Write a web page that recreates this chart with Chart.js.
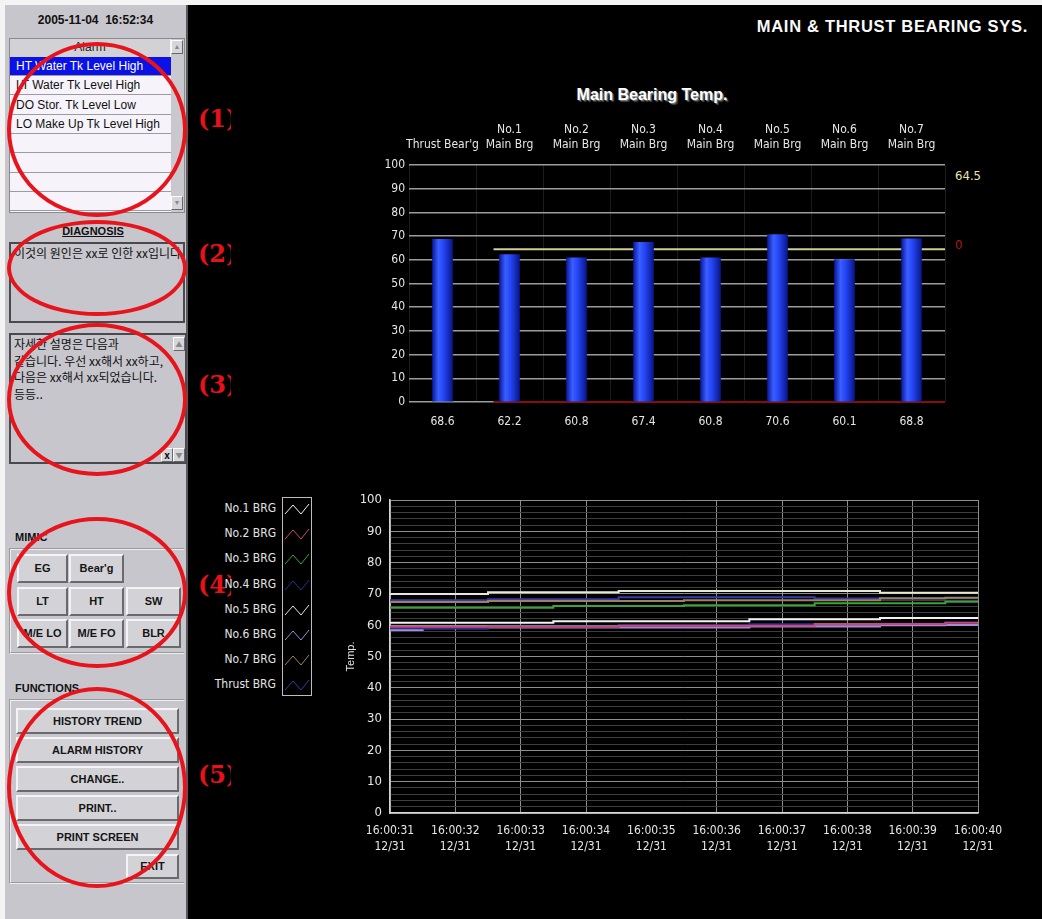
<!DOCTYPE html>
<html>
<head>
<meta charset="utf-8">
<title>Main & Thrust Bearing Sys.</title>
<script src="https://cdn.jsdelivr.net/npm/chart.js@4.4.1/dist/chart.umd.min.js"></script>
<style>
  html, body { margin: 0; padding: 0; }
  body { width: 1042px; height: 919px; position: relative; overflow: hidden; background: #f4f4f4;
         font-family: "Liberation Sans", Arial, sans-serif; }
  .abs { position: absolute; }
  #panel { left: 5px; top: 5px; width: 181px; height: 914px; background: #c7c6cc; }
  #panelEdge { left: 186px; top: 5px; width: 2px; height: 914px; background: #5a5a5e; }
  #screen { left: 188px; top: 5px; width: 854px; height: 914px; background: #000; }
  #clock { left: 5px; top: 13px; width: 181px; text-align: center; font-weight: bold; font-size: 12px; color: #111; }

  #alarmList { left: 9px; top: 38px; width: 176px; height: 175px; background: #f6f4fa; border: 1px solid #8a8a8e; box-sizing: border-box; }
  #alarmHead { left: 0; top: 0; width: 160px; height: 18px; background: #d2d2d6; border-bottom: 1px solid #9a9a9e;
               font-size: 12px; text-align: center; line-height: 17px; color: #222; }
  .alarmRow { position: absolute; left: 0; width: 161px; height: 19px; border-bottom: 1px solid #9c9ca0; box-sizing: border-box;
              font-size: 12px; line-height: 18px; padding-left: 6px; color: #111; white-space: nowrap; overflow: hidden; }
  .alarmRow.sel { background: #0a12e8; color: #fff; }
  #alarmScroll { left: 161px; top: 0; width: 13px; height: 173px; background: #c9c8cd; }
  .sbtn { position: absolute; width: 12px; height: 14px; background: #d6d6da; border-top: 1px solid #fff; border-left: 1px solid #fff;
          border-right: 1px solid #666; border-bottom: 1px solid #666; box-sizing: border-box; font-size: 7px; color: #888;
          text-align: center; line-height: 12px; }

  #diagLabel { left: 5px; top: 225px; width: 176px; text-align: center; font-weight: bold; font-size: 11px; text-decoration: underline; color: #111; }
  #diagBox { left: 9px; top: 242px; width: 176px; height: 81px; border: 2px solid #4a4a4e; box-sizing: border-box; background: #c7c6cc;
             font-family: "Noto Sans CJK KR", sans-serif; font-size: 12px; line-height: 16px; padding: 1px 3px; white-space: nowrap; overflow: hidden; color: #111; }
  #detailBox { left: 9px; top: 333px; width: 178px; height: 131px; border: 2px solid #4a4a4e; box-sizing: border-box; background: #c7c6cc;
               font-family: "Noto Sans CJK KR", sans-serif; font-size: 12px; line-height: 16.5px; padding: 1px 3px; color: #111; }

  .grpLabel { font-weight: bold; font-size: 11px; color: #111; }
  .grp { border-top: 2px groove #eee; border-left: 2px groove #eee; border-bottom: 2px groove #eee; box-sizing: border-box; }
  .btn { position: absolute; background: #d3d3d7; border-top: 2px solid #f4f4f6; border-left: 2px solid #f4f4f6;
         border-right: 2px solid #6a6a6e; border-bottom: 2px solid #6a6a6e; box-sizing: border-box; font-weight: bold;
         font-size: 11px; color: #151515; text-align: center; }

  .ring { position: absolute; border: 4px solid #e8141c; border-radius: 50%; box-sizing: border-box; }
  .tag { position: absolute; left: 198px; width: 33px; overflow: hidden; font-family: "DejaVu Serif", "Liberation Serif", serif;
         font-weight: bold; font-size: 24px; color: #e8101a; white-space: nowrap; }

  #sysTitle { right: 14px; top: 17px; font-weight: bold; font-size: 16.5px; color: #fafafa; letter-spacing: 0.7px; }
  #barTitle { left: 552px; top: 86px; width: 200px; text-align: center; font-weight: bold; font-size: 16px; color: #fff;
              text-shadow: 1px 1px 0 #777, 2px 2px 1px #444; }
  .readout { position: absolute; font-family: "Liberation Sans Narrow", "DejaVu Sans Condensed", "Liberation Sans", sans-serif; font-size: 13px; }
  #barWrap { left: 360px; top: 110px; width: 610px; height: 330px; }
  #trendWrap { left: 330px; top: 480px; width: 700px; height: 390px; }
  #legendBox { left: 282px; top: 497px; width: 30px; height: 199px; border: 1px solid #bdbdbd; box-sizing: border-box; }
  .legRow { position: absolute; left: 200px; width: 76px; text-align: right; color: #e4e4e4; font-size: 12px;
            font-family: "Liberation Sans Narrow", "DejaVu Sans Condensed", "Liberation Sans", sans-serif; }
  .legIcon { position: absolute; left: 284px; }
</style>
</head>
<body>
<div id="panel" class="abs"></div>
<div id="panelEdge" class="abs"></div>
<div id="screen" class="abs"></div>

<div id="clock" class="abs">2005-11-04&nbsp; 16:52:34</div>

<div id="alarmList" class="abs">
  <div id="alarmHead" class="abs">Alarm</div>
  <div id="alarmRows"></div>
  <div id="alarmScroll" class="abs">
    <div class="sbtn" style="left:0;top:1px;">&#9650;</div>
    <div class="sbtn" style="left:0;top:157px;">&#9660;</div>
  </div>
</div>

<div id="diagLabel" class="abs">DIAGNOSIS</div>
<div id="diagBox" class="abs">이것의 원인은 xx로 인한 xx입니다</div>
<div id="detailBox" class="abs">자세한 설명은 다음과<br>같습니다. 우선 xx해서 xx하고,<br>다음은 xx해서 xx되었습니다.<br>등등..
  <div class="sbtn" style="left:162px;top:2px;">&#9650;</div>
  <div class="sbtn" style="left:162px;top:113px;">&#9660;</div>
  <div class="sbtn" style="left:150px;top:113px;color:#111;font-size:10px;font-weight:bold;">x</div>
</div>

<div class="grpLabel abs" style="left:15px;top:531px;">MIMIC</div>
<div class="grp abs" style="left:9px;top:548px;width:175px;height:106px;"></div>
<div id="mimicBtns"></div>

<div class="grpLabel abs" style="left:15px;top:682px;">FUNCTIONS</div>
<div class="grp abs" style="left:9px;top:699px;width:175px;height:185px;"></div>
<div id="funcBtns"></div>

<div class="ring" style="left:7px;top:42px;width:180px;height:175px;"></div>
<div class="ring" style="left:7px;top:220px;width:180px;height:96px;"></div>
<div class="ring" style="left:7px;top:323px;width:180px;height:153px;"></div>
<div class="ring" style="left:7px;top:517px;width:180px;height:151px;"></div>
<div class="ring" style="left:7px;top:687px;width:180px;height:201px;"></div>
<div class="tag" style="top:104px;">(1)</div>
<div class="tag" style="top:239px;">(2)</div>
<div class="tag" style="top:370px;">(3)</div>
<div class="tag" style="top:570px;">(4)</div>
<div class="tag" style="top:760px;">(5)</div>

<div id="sysTitle" class="abs">MAIN &amp; THRUST BEARING SYS.</div>
<div id="barTitle" class="abs">Main Bearing Temp.</div>
<div id="readHigh" class="readout" style="left:955px;top:168px;color:#e4e4b0;"></div>
<div id="readLow" class="readout" style="left:955px;top:237px;color:#b01818;"></div>

<div id="barWrap" class="abs"><canvas id="barChart" width="610" height="330"></canvas></div>
<div id="legendBox" class="abs"></div>
<div id="legend"></div>
<div id="trendWrap" class="abs"><canvas id="trendChart" width="700" height="390"></canvas></div>

<script>
// Alarm list + buttons (panel text)
const alarms = ['HT Water Tk Level High', 'LT Water Tk Level High', 'DO Stor. Tk Level Low', 'LO Make Up Tk Level High', '', '', '', ''];
const mimicButtons = [['EG', 'Bear\'g'], ['LT', 'HT', 'SW'], ['M/E LO', 'M/E FO', 'BLR']];
const functionButtons = ['HISTORY TREND', 'ALARM HISTORY', 'CHANGE..', 'PRINT..', 'PRINT SCREEN'];

// Bar chart data
const bearingLabels = [['', 'Thrust Bear\'g'], ['No.1', 'Main Brg'], ['No.2', 'Main Brg'], ['No.3', 'Main Brg'],
                       ['No.4', 'Main Brg'], ['No.5', 'Main Brg'], ['No.6', 'Main Brg'], ['No.7', 'Main Brg']];
const bearingTemps = [68.6, 62.2, 60.8, 67.4, 60.8, 70.6, 60.1, 68.8];
const alarmHigh = 64.5;
const alarmLow = 0;

// Trend chart data (one reading per second)
const trendTimes = ['16:00:31', '16:00:32', '16:00:33', '16:00:34', '16:00:35', '16:00:36', '16:00:37', '16:00:38', '16:00:39', '16:00:40'];
const trendDate = '12/31';
const seriesNames = ['No.1 BRG', 'No.2 BRG', 'No.3 BRG', 'No.4 BRG', 'No.5 BRG', 'No.6 BRG', 'No.7 BRG', 'Thrust BRG'];
const seriesColors = ['#f2f2f2', '#c8487a', '#3aa33a', '#2a2f9a', '#e8e8d4', '#a888d8', '#9a8260', '#3a3aa8'];
const no1Brg = [60.8, 60.8, 60.8, 61.3, 61.3, 61.3, 61.9, 61.9, 62.3, 62.3];
const no2Brg = [59.5, 59.5, 59.5, 59.5, 59.8, 59.8, 59.8, 60.4, 60.4, 60.8];
const no3Brg = [65.6, 65.6, 65.6, 66.1, 66.1, 66.4, 66.4, 67.0, 67.0, 67.5];
const no4Brg = [59.0, 59.0, 59.5, 59.5, 60.0, 60.0, 60.3, 60.3, 60.5, 60.8];
const no5Brg = [70.0, 70.0, 70.5, 70.5, 70.9, 70.9, 70.9, 70.9, 70.4, 70.4];
const no6Brg = [58.5, 59.0, 59.3, 59.3, 59.3, 59.3, 59.6, 59.6, 60.0, 60.1];
const no7Brg = [67.4, 67.4, 67.7, 67.7, 67.7, 68.0, 68.0, 68.0, 68.6, 68.8];
const thrustBrg = [68.0, 68.0, 68.3, 68.3, 68.9, 68.9, 68.9, 68.5, 68.5, 68.6];
const trendSeries = [no1Brg, no2Brg, no3Brg, no4Brg, no5Brg, no6Brg, no7Brg, thrustBrg];

const narrowFont = '"Liberation Sans Narrow", "DejaVu Sans Condensed", "Liberation Sans", sans-serif';

// --- panel ---
const rowsBox = document.getElementById('alarmRows');
alarms.forEach((text, i) => {
    const row = document.createElement('div');
    row.className = 'alarmRow' + (i === 0 ? ' sel' : '');
    row.style.top = (18 + i * 19.3) + 'px';
    row.textContent = text;
    rowsBox.appendChild(row);
});

const mimicBox = document.getElementById('mimicBtns');
const mimicCols = [17, 69, 126];
mimicButtons.forEach((row, r) => {
    row.forEach((label, c) => {
        const b = document.createElement('div');
        b.className = 'btn';
        b.style.left = mimicCols[c] + 'px';
        b.style.top = (554 + r * 32.5) + 'px';
        b.style.width = (c === 0 ? 51 : 55) + 'px';
        b.style.height = '29px';
        b.style.lineHeight = '25px';
        b.textContent = label;
        mimicBox.appendChild(b);
    });
});

const funcBox = document.getElementById('funcBtns');
functionButtons.forEach((label, i) => {
    const b = document.createElement('div');
    b.className = 'btn';
    b.style.left = '16px';
    b.style.top = (708 + i * 29) + 'px';
    b.style.width = '163px';
    b.style.height = '26px';
    b.style.lineHeight = '22px';
    b.textContent = label;
    funcBox.appendChild(b);
});
const exitBtn = document.createElement('div');
exitBtn.className = 'btn';
exitBtn.style.cssText = 'left:126px;top:854px;width:53px;height:25px;line-height:21px;';
exitBtn.textContent = 'EXIT';
funcBox.appendChild(exitBtn);

document.getElementById('readHigh').textContent = alarmHigh.toFixed(1);
document.getElementById('readLow').textContent = String(alarmLow);

// --- trend legend ---
const legendBox = document.getElementById('legend');
seriesNames.forEach((name, i) => {
    const y = 501 + i * 25.2;
    const lbl = document.createElement('div');
    lbl.className = 'legRow';
    lbl.style.top = y + 'px';
    lbl.textContent = name;
    legendBox.appendChild(lbl);
    const icon = document.createElementNS('http://www.w3.org/2000/svg', 'svg');
    icon.setAttribute('class', 'legIcon');
    icon.setAttribute('width', '26');
    icon.setAttribute('height', '14');
    icon.style.top = (y + 1) + 'px';
    icon.innerHTML = `<polyline points="1,12 9,3 17,12 25,2" fill="none" stroke="${seriesColors[i]}" stroke-width="1"/>`;
    legendBox.appendChild(icon);
});

Chart.defaults.color = '#e6e6e6';
Chart.defaults.font.family = narrowFont;
Chart.defaults.font.size = 12;
Chart.defaults.animation = false;

// --- bar chart ---
const thresholdLines = {
    id: 'thresholdLines',
    beforeDatasetsDraw(chart) {
        const { ctx, chartArea, scales } = chart;
        const start = scales.x.getPixelForValue(1) - 16;
        ctx.save();
        ctx.lineWidth = 2;
        ctx.strokeStyle = '#cfcf96';
        const yh = scales.y.getPixelForValue(alarmHigh);
        ctx.beginPath(); ctx.moveTo(start, yh); ctx.lineTo(chartArea.right, yh); ctx.stroke();
        ctx.strokeStyle = '#8a0c0c';
        const yl = scales.y.getPixelForValue(alarmLow);
        ctx.beginPath(); ctx.moveTo(start, yl); ctx.lineTo(chartArea.right, yl); ctx.stroke();
        ctx.restore();
    }
};

function barFill(c) {
    const xs = c.chart.scales.x;
    const cx = xs && c.dataIndex !== undefined ? xs.getPixelForValue(c.dataIndex) : NaN;
    if (!isFinite(cx)) return '#2446f6';
    const g = c.chart.ctx.createLinearGradient(cx - 10, 0, cx + 10, 0);
    g.addColorStop(0, '#0b1ba0');
    g.addColorStop(0.3, '#3a5eff');
    g.addColorStop(0.55, '#2446f6');
    g.addColorStop(1, '#0a168a');
    return g;
}

const barChart = new Chart(document.getElementById('barChart'), {
    type: 'bar',
    data: {
        labels: bearingLabels,
        datasets: [{
            data: bearingTemps,
            barThickness: 20,
            borderWidth: 0,
            backgroundColor: barFill
        }]
    },
    options: {
        responsive: false,
        layout: { padding: { left: 9, right: 25, top: 5, bottom: 10 } },
        plugins: { legend: { display: false }, tooltip: { enabled: false } },
        scales: {
            x: {
                position: 'top',
                grid: { color: '#1c1c1c', drawTicks: false },
                border: { display: false },
                ticks: { color: '#e6e6e6', padding: 13, maxRotation: 0, autoSkip: false, font: { size: 12, lineHeight: 1.25 } },
                afterFit(scale) { scale.height = 50; }
            },
            x2: {
                position: 'bottom',
                grid: { display: false },
                border: { display: false },
                ticks: {
                    color: '#e6e6e6', padding: 5, maxRotation: 0, autoSkip: false, font: { size: 12 },
                    callback: (v, i) => bearingTemps[i].toFixed(1)
                },
                afterFit(scale) { scale.height = 28; }
            },
            y: {
                min: 0, max: 100,
                grid: { color: '#9c9c9c', lineWidth: 1.5, drawTicks: false },
                border: { display: false },
                ticks: { stepSize: 10, color: '#e6e6e6', padding: 4, font: { size: 12 } },
                afterFit(scale) { scale.width = 40; }
            }
        }
    },
    plugins: [thresholdLines]
});
barChart.update('none');

// --- trend chart ---
new Chart(document.getElementById('trendChart'), {
    type: 'line',
    data: {
        labels: trendTimes.map(t => [t, trendDate]),
        datasets: trendSeries.map((values, i) => ({
            label: seriesNames[i],
            data: values,
            borderColor: seriesColors[i],
            borderWidth: 2,
            pointRadius: 0,
            stepped: 'middle'
        }))
    },
    options: {
        responsive: false,
        layout: { padding: { left: 10, right: 52, top: 20, bottom: 17 } },
        plugins: { legend: { display: false }, tooltip: { enabled: false } },
        scales: {
            x: {
                offset: false,
                grid: { color: (c) => c.index === 4 ? 'rgba(0,0,0,0)' : '#8e8e8e', drawTicks: false },
                border: { color: '#d6d6d6', width: 1.5 },
                ticks: { color: '#e6e6e6', padding: 10, maxRotation: 0, autoSkip: false, font: { size: 12, lineHeight: 1.35 } },
                afterFit(scale) { scale.height = 40; }
            },
            y: {
                min: 0, max: 100,
                title: { display: true, text: 'Temp.', color: '#e0e0e0', font: { size: 11, family: '"Liberation Sans", sans-serif' }, padding: { top: 4 } },
                grid: {
                    color: (c) => (c.tick && c.tick.value % 10 === 0) ? '#8e8e8e' : '#3e3e3e',
                    drawTicks: false
                },
                border: { color: '#d6d6d6', width: 1.5 },
                ticks: {
                    stepSize: 2, autoSkip: false, color: '#e6e6e6', padding: 8, font: { size: 13 },
                    callback: (v) => v % 10 === 0 ? v : ''
                },
                afterFit(scale) { scale.width = 50; }
            }
        }
    }
});
</script>
</body>
</html>
